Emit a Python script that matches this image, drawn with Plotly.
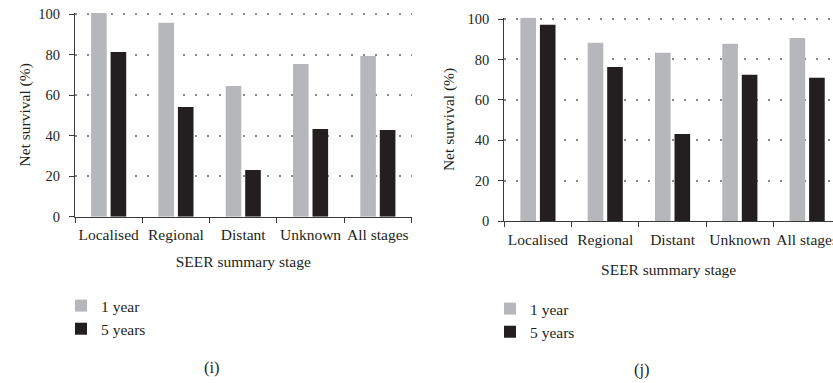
import plotly.graph_objects as go

# SEER summary stage categories and net survival (%) per panel
stages = ["Localised", "Regional", "Distant", "Unknown", "All stages"]
panel_i_1yr = [100.8, 95.8, 64.6, 75.4, 79.4]
panel_i_5yr = [81.4, 54.2, 23.1, 43.3, 42.8]
panel_j_1yr = [100.6, 88.3, 83.3, 87.8, 90.6]
panel_j_5yr = [97.2, 76.3, 43.2, 72.4, 70.9]
y_ticks = [0, 20, 40, 60, 80, 100]

W, H = 833, 383
GREY = "#b6b7ba"
BLACK = "#231f20"
TEXT = "#231f20"
AXIS = "#3a3a3a"
FONT = "Liberation Serif"
Y_TOP = 100.7  # slightly above 100 so the 100 grid line is kept

fig = go.Figure()

panels = [
    ("x", "y", "legend", panel_i_1yr, panel_i_5yr),
    ("x2", "y2", "legend2", panel_j_1yr, panel_j_5yr),
]
for xa, ya, lg, one, five in panels:
    fig.add_trace(go.Bar(x=stages, y=one, name="1 year", marker_color=GREY,
                         marker_line_width=0, xaxis=xa, yaxis=ya, legend=lg,
                         cliponaxis=False, legendgroup=lg + "a"))
    fig.add_trace(go.Bar(x=stages, y=five, name="5 years", marker_color=BLACK,
                         marker_line_width=0, xaxis=xa, yaxis=ya, legend=lg,
                         cliponaxis=False, legendgroup=lg + "b"))

cat_px = 67.3


def xaxis_style(x0, x1, ncat, title_gap):
    return dict(
        domain=[x0 / W, min(x1 / W, 1.0)],
        type="category",
        range=[-0.5, -0.5 + ncat],
        showline=True, linecolor=AXIS, linewidth=1.2,
        ticks="outside", ticklen=5, tickwidth=1.2, tickcolor=AXIS,
        tickson="boundaries", tickangle=0,
        showgrid=False, zeroline=False,
        tickfont=dict(family=FONT, size=15.5, color=TEXT),
        ticklabelstandoff=4,
        title=dict(text="SEER summary stage",
                   font=dict(family=FONT, size=15.5, color=TEXT), standoff=title_gap),
        automargin=False,
        fixedrange=True,
    )


def yaxis_style(y100_px, y0_px, title_gap):
    px_per_unit = (y0_px - y100_px) / 100.0
    top_px = y0_px - Y_TOP * px_per_unit
    return dict(
        domain=[1 - y0_px / H, 1 - top_px / H],
        range=[0, Y_TOP],
        tickvals=y_ticks,
        showline=True, linecolor=AXIS, linewidth=1.2,
        ticks="outside", ticklen=5, tickwidth=1.2, tickcolor=AXIS,
        showgrid=True, gridcolor="#8a8a8a", gridwidth=1.5, griddash="2px,10px",
        zeroline=False,
        tickfont=dict(family=FONT, size=14.5, color=TEXT),
        ticklabelstandoff=6,
        title=dict(text="Net survival (%)",
                   font=dict(family=FONT, size=15.5, color=TEXT), standoff=title_gap),
        automargin=False,
        fixedrange=True,
    )


# left panel (i)
left_x0 = 75.0
fig.update_layout(xaxis=xaxis_style(left_x0, left_x0 + 5 * cat_px, 5, 13),
                  yaxis=yaxis_style(14.3, 216.7, 3))
# right panel (j), running off the right edge
right_x0 = 504.3
fig.update_layout(
    xaxis2=dict(xaxis_style(right_x0, W, (W - right_x0) / cat_px, 17), anchor="y2"),
    yaxis2=dict(yaxis_style(19.0, 221.3, 9), anchor="x2"),
)

legend_common = dict(
    font=dict(family=FONT, size=15.5, color=TEXT),
    bgcolor="rgba(0,0,0,0)",
    xanchor="left", yanchor="top",
    orientation="v",
    traceorder="grouped",
    tracegroupgap=0,
    itemclick=False, itemdoubleclick=False,
)
fig.update_layout(
    legend=dict(legend_common, x=(75 - 14) / W, y=1 - 289 / H),
    legend2=dict(legend_common, x=(504 - 14) / W, y=1 - 292 / H),
)

fig.add_annotation(text="(i)", x=211.7 / W, y=1 - 367 / H, xref="paper", yref="paper",
                   xanchor="center", yanchor="middle",
                   showarrow=False, font=dict(family=FONT, size=16.5, color=TEXT))
fig.add_annotation(text="(j)", x=641.7 / W, y=1 - 369 / H, xref="paper", yref="paper",
                   xanchor="center", yanchor="middle",
                   showarrow=False, font=dict(family=FONT, size=16.5, color=TEXT))

fig.update_layout(
    width=W, height=H,
    margin=dict(l=0, r=0, t=0, b=0, autoexpand=False),
    paper_bgcolor="white", plot_bgcolor="white",
    barmode="group", bargap=0.42, bargroupgap=0.2,
    showlegend=True,
)

fig.write_html("out.html", config={"displayModeBar": False})
